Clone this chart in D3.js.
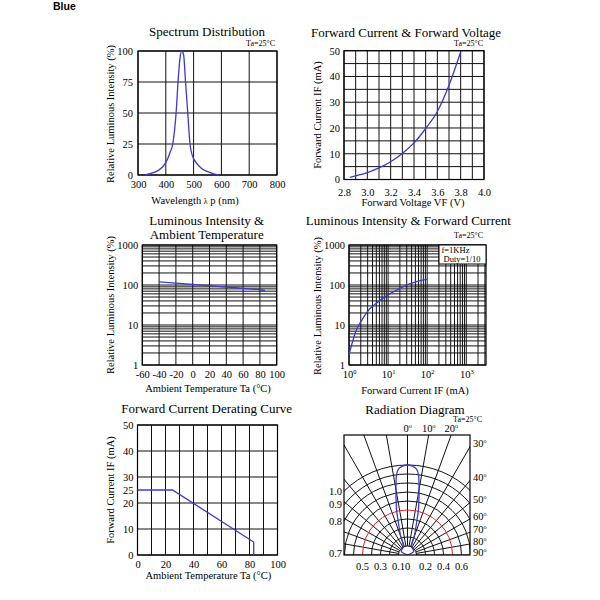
<!DOCTYPE html>
<html><head><meta charset="utf-8">
<script src="https://cdn.jsdelivr.net/npm/d3@7"></script>
<style>
body{margin:0;background:#fff}
svg{display:block}
text{font-family:"Liberation Serif","Times New Roman",serif;fill:#000}
</style>
</head><body><script>
// ---------- data ----------
const spectrumWavelength = [325,350,375,400,415,425,437,444,450,457,464,471,479,487,495,509,530,560,590];
const spectrumIntensity  = [0,1.5,4,10,18,25,50,75,92,100,97,75,50,25,16,10,5,2,0];
const spectrumXTicks = [300,400,500,600,700,800];
const spectrumYTicks = [0,25,50,75,100];

const fvVoltage = [2.85,2.9,3.0,3.1,3.2,3.3,3.4,3.5,3.6,3.7,3.8];
const fvCurrent = [0.8,1.4,2.7,4.5,6.9,10.1,14.2,19.8,26.4,36.6,49.5];
const fvXTicks = [2.8,3.0,3.2,3.4,3.6,3.8,4.0];
const fvYTicks = [0,10,20,30,40,50];

const ltTemp = [-40,-20,0,20,40,60,80,86];
const ltIntensity = [120,112,104,96,89,82,76,73];
const ltXTicks = [-60,-40,-20,0,20,40,60,80,100];
const logYTicks = [1,10,100,1000];

const liCurrent = [1,1.2,1.5,2,3,5,7,10,20,30,50,70,100];
const liIntensity = [1.8,3.5,7,12,22,35,45,57,82,100,118,130,138];
const liXTickExp = [0,1,2,3];

const derTemp = [0,25,83,83];
const derCurrent = [25,25,5,0];
const derXTicks = [0,20,40,60,80,100];
const derYTicks = [0,10,20,25,30,40,50];

const radAngles = [-90,-60,-40,-26.6,-19.3,-15.2,-13.7,-11.8,-9.3,-7.8,-6,-3.2,0,3.2,6,7.8,9.3,11.8,13.7,15.2,19.3,26.6,40,60,90];
const radIntensity = [0,0.08,0.09,0.10,0.24,0.40,0.51,0.62,0.79,0.90,0.96,0.99,1.0,0.99,0.96,0.90,0.79,0.62,0.51,0.40,0.24,0.10,0.09,0.08,0];
const radArcs = [0.1,0.2,0.3,0.4,0.5,0.6,0.7,0.8,0.9,1.0];
const radRedArc = 0.5;
const radSpokes = [-90,-80,-70,-60,-50,-40,-30,-20,-10,0,10,20,30,40,50,60,70,80,90];
const radTopLabels = [0,10,20];
const radRightLabels = [30,40,50,60,70,80,90];
const radLeftLabels = [1.0,0.9,0.8,0.7];
const radBottomLabels = ["0.5","0.3","0.1","0","0.2","0.4","0.6"];
const radBottomValues = [-0.5,-0.3,-0.1,0,0.2,0.4,0.6];

// ---------- drawing ----------
const BLUE = "#3a3acf";
const svg = d3.select("body").append("svg").attr("width",600).attr("height",600);

svg.append("text").attr("x",53).attr("y",10).text("Blue")
  .style("font-family","'Liberation Sans',Arial,sans-serif").style("font-weight","bold").style("font-size","10.5px");

const plain = d => String(d);

function frame(g, x, y, xGrid, yGrid){
  const [x0,x1] = x.range(), [y0,y1] = y.range();
  g.append("g").selectAll("line").data(xGrid).join("line")
    .attr("x1",d=>x(d)).attr("x2",d=>x(d)).attr("y1",y0).attr("y2",y1)
    .attr("stroke","#111").attr("stroke-width",1);
  g.append("g").selectAll("line").data(yGrid).join("line")
    .attr("y1",d=>y(d)).attr("y2",d=>y(d)).attr("x1",x0).attr("x2",x1)
    .attr("stroke","#111").attr("stroke-width",1);
  g.append("rect").attr("x",x0).attr("y",y1).attr("width",x1-x0).attr("height",y0-y1)
    .attr("fill","none").attr("stroke","#000").attr("stroke-width",1.2);
}
function axes(g, x, y, xTicks, yTicks, xPad, yPad, xFmt, yFmt){
  const ax = g.append("g").attr("transform",`translate(0,${y.range()[0]})`)
    .call(d3.axisBottom(x).tickValues(xTicks).tickSize(0).tickPadding(xPad).tickFormat(xFmt));
  const ay = g.append("g").attr("transform",`translate(${x.range()[0]},0)`)
    .call(d3.axisLeft(y).tickValues(yTicks).tickSize(0).tickPadding(yPad).tickFormat(yFmt));
  [ax,ay].forEach(a=>{a.select(".domain").remove();
    a.attr("font-family",null).attr("font-size",null);
    a.selectAll("text").style("font-size","10.5px");});
  return [ax,ay];
}
function label(txt,x,y,size,anchor,rot){
  const t = svg.append("text").attr("text-anchor",anchor||"middle").attr("dy","0.35em")
    .style("font-size",size+"px").text(txt);
  t.attr("transform",`translate(${x},${y})`+(rot?" rotate(-90)":""));
  return t;
}
function logGrid(max){
  const out=[];
  for(let d=1; d<=max; d*=10) for(let m=1;m<=9;m++){ if(m*d<=max+1e-9) out.push(m*d); }
  return out;
}

// Panel 1: Spectrum
{
  const g = svg.append("g");
  const x = d3.scaleLinear().domain([300,800]).range([138,277]);
  const y = d3.scaleLinear().domain([0,100]).range([175,51]);
  frame(g,x,y,spectrumXTicks,spectrumYTicks);
  axes(g,x,y,spectrumXTicks,spectrumYTicks,6,5,plain,plain);
  g.append("path").datum(spectrumWavelength.map((w,i)=>[w,spectrumIntensity[i]]))
    .attr("d",d3.line().x(d=>x(d[0])).y(d=>y(d[1])).curve(d3.curveMonotoneX))
    .attr("fill","none").attr("stroke",BLUE).attr("stroke-width",1.3);
  label("Spectrum Distribution",207,31.5,13);
  label("Ta=25°C",275,43,8,"end");
  const t = label("Wavelength ",195,200.5,10.5);
  t.append("tspan").style("font-size","8px").text("λ");
  t.append("tspan").text(" p (nm)");
  label("Relative Luminous Intensity (%)",110.5,114,10.5,"middle",true);
}

// Panel 2: Forward Current & Forward Voltage
{
  const g = svg.append("g");
  const x = d3.scaleLinear().domain([2.8,4.0]).range([344,484]);
  const y = d3.scaleLinear().domain([0,50]).range([179.5,50.7]);
  frame(g,x,y,d3.range(0,13).map(i=>2.8+i*0.1),d3.range(0,11).map(i=>i*5));
  axes(g,x,y,fvXTicks,fvYTicks,9,4,d3.format(".1f"),plain);
  g.append("path").datum(fvVoltage.map((v,i)=>[v,fvCurrent[i]]))
    .attr("d",d3.line().x(d=>x(d[0])).y(d=>y(d[1])).curve(d3.curveMonotoneX))
    .attr("fill","none").attr("stroke",BLUE).attr("stroke-width",1.3);
  label("Forward Current & Forward Voltage",406,32.5,13);
  label("Ta=25°C",483,43,8,"end");
  label("Forward Voltage  VF (V)",413,202.5,10.5);
  label("Forward Current IF (mA)",317.5,115,10.5,"middle",true);
}

// Panel 3: Luminous Intensity & Ambient Temperature
{
  const g = svg.append("g");
  const x = d3.scaleLinear().domain([-60,100]).range([142.3,276.7]);
  const y = d3.scaleLog().domain([1,1000]).range([365,245]);
  frame(g,x,y,ltXTicks,logGrid(1000));
  axes(g,x,y,ltXTicks,logYTicks,6,4,plain,plain);
  g.append("path").datum(ltTemp.map((v,i)=>[v,ltIntensity[i]]))
    .attr("d",d3.line().x(d=>x(d[0])).y(d=>y(d[1])).curve(d3.curveMonotoneX))
    .attr("fill","none").attr("stroke",BLUE).attr("stroke-width",1.3);
  label("Luminous Intensity &",206.7,220.5,13);
  label("Ambient Temperature",206.7,234,13);
  label("Ambient Temperature Ta (°C)",208,388.3,10.5);
  label("Relative Luminous Intensity (%)",110.5,305,10.5,"middle",true);
}

// Panel 4: Luminous Intensity & Forward Current
{
  const g = svg.append("g");
  const x = d3.scaleLog().domain([1,3200]).range([349,486]);
  const y = d3.scaleLog().domain([1,1000]).range([365,245]);
  frame(g,x,y,logGrid(3200),logGrid(1000));
  const [ax] = axes(g,x,y,liXTickExp.map(e=>Math.pow(10,e)),logYTicks,6,4,()=>"",plain);
  ax.selectAll(".tick text").each(function(d){
    const t=d3.select(this);
    t.append("tspan").text("10");
    t.append("tspan").attr("dy","-4").style("font-size","6.5px").text(Math.round(Math.log10(d)));
  });
  g.append("path").datum(liCurrent.map((v,i)=>[v,liIntensity[i]]))
    .attr("d",d3.line().x(d=>x(d[0])).y(d=>y(d[1])).curve(d3.curveMonotoneX))
    .attr("fill","none").attr("stroke",BLUE).attr("stroke-width",1.3);
  g.append("rect").attr("x",439).attr("y",245).attr("width",47).attr("height",19)
    .attr("fill","#fff").attr("stroke","#000").attr("stroke-width",1);
  label("f=1KHz",441.5,250,8.5,"start");
  label("Duty=1/10",443.5,259,8.5,"start");
  label("Luminous Intensity & Forward Current",408.3,220,13);
  label("Ta=25°C",483,235,8,"end");
  label("Forward Current IF (mA)",415,390,10.5);
  label("Relative Luminous Intensity (%)",317.5,306,10.5,"middle",true);
}

// Panel 5: Derating
{
  const g = svg.append("g");
  const x = d3.scaleLinear().domain([0,100]).range([137.5,277.5]);
  const y = d3.scaleLinear().domain([0,50]).range([555,425]);
  frame(g,x,y,d3.range(0,101,10),[0,10,20,30,40,50]);
  axes(g,x,y,derXTicks,derYTicks,5.5,4,plain,plain);
  g.append("path").datum(derTemp.map((v,i)=>[v,derCurrent[i]]))
    .attr("d",d3.line().x(d=>x(d[0])).y(d=>y(d[1])))
    .attr("fill","none").attr("stroke",BLUE).attr("stroke-width",1.3);
  label("Forward Current Derating Curve",206.7,408.3,13);
  label("Ambient Temperature Ta (°C)",208.3,575,10.5);
  label("Forward Current IF (mA)",110.5,490,10.5,"middle",true);
}

// Panel 6: Radiation diagram
{
  const cx=407.5, cy=555, bx0=344, bx1=470, by0=435;
  const r = d3.scaleLinear().domain([0,1]).range([0,90]);
  svg.append("clipPath").attr("id","radclip").append("rect")
    .attr("x",bx0).attr("y",by0).attr("width",bx1-bx0).attr("height",cy-by0);
  const g = svg.append("g").attr("clip-path","url(#radclip)");
  const gc = g.append("g").attr("transform",`translate(${cx},${cy})`);
  gc.selectAll("line").data(radSpokes).join("line")
    .attr("x1",a=>r(0.1)*Math.sin(a*Math.PI/180)).attr("y1",a=>-r(0.1)*Math.cos(a*Math.PI/180))
    .attr("x2",a=>220*Math.sin(a*Math.PI/180)).attr("y2",a=>-220*Math.cos(a*Math.PI/180))
    .attr("stroke","#111").attr("stroke-width",1);
  gc.selectAll("path.arc").data(radArcs).join("path").attr("class","arc")
    .attr("d",v=>{const p=d3.path(); p.moveTo(-r(v),0); p.arc(0,0,r(v),Math.PI,2*Math.PI); return p.toString();})
    .attr("fill","none").attr("stroke",v=>v===radRedArc?"#e02828":"#111").attr("stroke-width",1);
  gc.append("path").datum(radAngles.map((a,i)=>[a,radIntensity[i]]))
    .attr("d",d3.lineRadial().angle(d=>d[0]*Math.PI/180).radius(d=>r(d[1])).curve(d3.curveCatmullRom))
    .attr("fill","none").attr("stroke",BLUE).attr("stroke-width",1.3);
  svg.append("rect").attr("x",bx0).attr("y",by0).attr("width",bx1-bx0).attr("height",cy-by0)
    .attr("fill","none").attr("stroke","#000").attr("stroke-width",1.2);

  function deg(t,v){ t.text(v); t.append("tspan").attr("dy","-4").style("font-size","6px").text("o"); }
  radTopLabels.forEach(a=>{
    const t = svg.append("text").attr("text-anchor","middle")
      .attr("x",cx+(cy-by0)*Math.tan(a*Math.PI/180)).attr("y",432).style("font-size","10.5px");
    deg(t,a);
  });
  radRightLabels.forEach(a=>{
    const yy = cy-(bx1-cx)/Math.tan(a*Math.PI/180);
    const t = svg.append("text").attr("x",bx1+3).attr("y",Math.max(yy-3,441)).attr("dy","0.35em").style("font-size","10.5px");
    deg(t,a);
  });
  radLeftLabels.forEach(v=>{
    const dx=cx-bx0, rr=r(v);
    const yy = rr>dx ? cy-Math.sqrt(rr*rr-dx*dx) : cy-2;
    svg.append("text").attr("x",bx0-2).attr("y",yy).attr("dy","0.35em").attr("text-anchor","end")
      .style("font-size","10.5px").text(d3.format(".1f")(v));
  });
  radBottomLabels.forEach((s,i)=>{
    svg.append("text").attr("x",cx+r(radBottomValues[i])).attr("y",570).attr("text-anchor","middle")
      .style("font-size","10.5px").text(s);
  });
  label("Radiation Diagram",415,409,13);
  label("Ta=25°C",482,419,8,"end");
}
</script></body></html>
